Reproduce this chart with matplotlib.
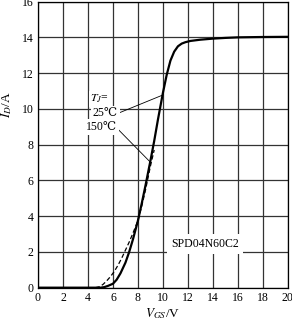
import matplotlib
matplotlib.use("Agg")
import matplotlib.pyplot as plt

# 25 C curve (solid)
vgs_25 = [0, 4.5, 5.0, 5.3, 5.6, 6.0, 6.3, 6.6, 7.0, 7.3, 7.6, 8.0, 8.3, 8.6, 9.0,
          9.3, 9.6, 10.0, 10.3, 10.6, 10.9, 11.2, 11.5, 11.8, 12.2, 13.0, 14.0,
          15.0, 16.0, 18.0, 20.0]
id_25 = [0, 0, 0.0, 0.03, 0.1, 0.22, 0.45, 0.8, 1.4, 2.0, 2.7, 3.75, 4.7, 5.7,
         7.1, 8.2, 9.4, 10.9, 11.9, 12.7, 13.2, 13.5, 13.65, 13.73, 13.8, 13.87,
         13.93, 13.97, 14.0, 14.02, 14.03]

# 150 C curve (dashed)
vgs_150 = [4.6, 4.9, 5.2, 5.5, 5.8, 6.1, 6.4, 6.7, 7.0, 7.3, 7.6, 8.0, 8.3,
           8.6, 9.0, 9.3]
id_150 = [0.0, 0.05, 0.18, 0.38, 0.62, 0.9, 1.25, 1.65, 2.1, 2.55, 3.05, 3.75,
          4.55, 5.45, 6.8, 7.7]

x_ticks = list(range(0, 21, 2))
y_ticks = list(range(0, 17, 2))

plt.rcParams['font.family'] = ['Liberation Serif', 'DejaVu Serif']
plt.rcParams['mathtext.fontset'] = 'stix'
fs = 8.5

fig = plt.figure(figsize=(2.92, 3.2), dpi=100)
ax = fig.add_axes([0.130, 0.101, 0.856, 0.894])

ax.plot(vgs_25, id_25, color='black', lw=1.6, solid_joinstyle='round', zorder=4)
ax.plot(vgs_150, id_150, color='black', lw=0.9, ls=(0, (3.5, 2)), zorder=4)

ax.set_xlim(0, 20)
ax.set_ylim(0, 16)
ax.set_xticks(x_ticks)
ax.set_yticks(y_ticks)
ax.tick_params(length=0, labelsize=fs, pad=3)
ax.grid(True, color='#333333', lw=0.9)
ax.set_axisbelow(True)
for s in ax.spines.values():
    s.set_color('black')
    s.set_linewidth(0.9)

ax.set_xlabel(r'$V_{GS}$/V', fontsize=9.5, labelpad=2)
ax.set_ylabel(r'$I_D$/A', fontsize=9.5)
ax.yaxis.set_label_coords(-0.095, 0.64)

bbox = dict(facecolor='white', edgecolor='none', pad=1.2)
ax.text(4.95, 10.55, r'$T_J$=', fontsize=fs, ha='center', va='center', bbox=bbox, zorder=5)
ax.text(5.4, 9.75, '25℃', fontsize=fs, ha='center', va='center', bbox=bbox, zorder=5)
ax.text(5.1, 8.98, '150℃', fontsize=fs, ha='center', va='center', bbox=bbox, zorder=5)
ax.plot([6.4, 9.9], [9.75, 10.75], color='black', lw=0.6, zorder=4)
ax.plot([6.35, 8.95], [8.9, 7.05], color='black', lw=0.6, zorder=4)

ax.text(13.4, 2.45, 'SPD04N60C2', fontsize=fs, ha='center', va='center',
        bbox=dict(facecolor='white', edgecolor='none', pad=3), zorder=5)

fig.savefig('out.png', dpi=100)
